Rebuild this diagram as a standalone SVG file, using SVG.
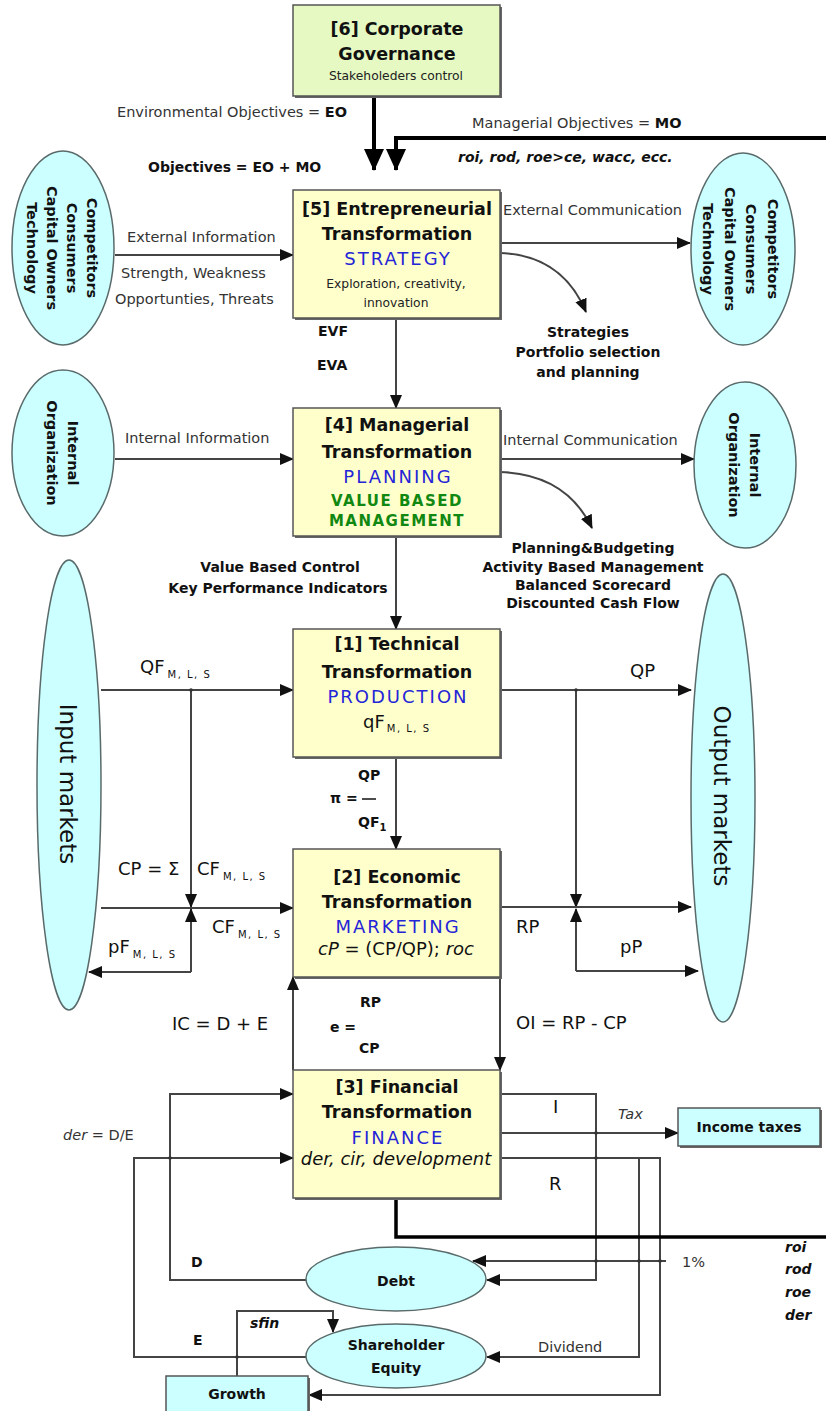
<svg xmlns="http://www.w3.org/2000/svg" width="826" height="1411" viewBox="0 0 826 1411">
<defs>
<marker id="ah" markerUnits="userSpaceOnUse" markerWidth="14" markerHeight="14" viewBox="0 0 14 14" refX="13" refY="7" orient="auto"><path d="M0,1 L14,7 L0,13 z" fill="#111"/></marker>
<marker id="ahb" markerUnits="userSpaceOnUse" markerWidth="22" markerHeight="20" viewBox="0 0 22 20" refX="21" refY="10" orient="auto"><path d="M0,0 L22,10 L0,20 z" fill="#000"/></marker>
</defs>
<style>
.box{fill:#FFFFCC;stroke:#555;stroke-width:1.5}
.gbox{fill:#E6F9C2;stroke:#555;stroke-width:1.5}
.sh{fill:#666}
.ell{fill:#CCFFFF;stroke:#5a6a6a;stroke-width:1.5}
.cbox{fill:#CCFFFF;stroke:#555;stroke-width:1.5}
.h{font-family:"DejaVu Sans",sans-serif;font-weight:bold;font-size:17.5px;fill:#111;text-anchor:middle}
.blue{font-family:"DejaVu Sans",sans-serif;font-size:18px;fill:#2525D8;text-anchor:middle;letter-spacing:2px}
.grn{font-family:"DejaVu Sans",sans-serif;font-weight:bold;font-size:15px;fill:#118811;text-anchor:middle;letter-spacing:1.5px}
.sm{font-family:"DejaVu Sans",sans-serif;font-size:12.3px;fill:#222;text-anchor:middle}
.lbl{font-family:"DejaVu Sans",sans-serif;font-size:14.5px;fill:#333}
.bl{font-family:"DejaVu Sans",sans-serif;font-weight:bold;font-size:14px;fill:#111}
.blc{font-family:"DejaVu Sans",sans-serif;font-weight:bold;font-size:14px;fill:#111;text-anchor:middle}
.ebl{font-family:"DejaVu Sans",sans-serif;font-weight:bold;font-size:14.5px;fill:#111;text-anchor:middle}
.big{font-family:"DejaVu Sans",sans-serif;font-size:23px;fill:#111;text-anchor:middle}
.sym{font-family:"DejaVu Sans",sans-serif;font-size:18px;fill:#111}
.sub{font-family:"DejaVu Sans",sans-serif;font-size:10px;fill:#111;letter-spacing:1.5px}
.it{font-style:italic}
.ln{fill:none;stroke:#444;stroke-width:2}
.thk{fill:none;stroke:#000;stroke-width:4}
.dot{fill:#333}
</style>

<g id="connectors">
<path class="thk" d="M374,96 V170" marker-end="url(#ahb)"/>
<path class="thk" d="M826,138 H396 V170" marker-end="url(#ahb)"/>
<path class="ln" d="M115,255 H293" marker-end="url(#ah)"/>
<path class="ln" d="M500,243 H690" marker-end="url(#ah)"/>
<path class="ln" d="M500,253 Q562,255 586,312" marker-end="url(#ah)"/>
<path class="ln" d="M396,318 V408" marker-end="url(#ah)"/>
<path class="ln" d="M115,459 H293" marker-end="url(#ah)"/>
<path class="ln" d="M500,459 H694" marker-end="url(#ah)"/>
<path class="ln" d="M500,472 Q566,474 592,528" marker-end="url(#ah)"/>
<path class="ln" d="M396,536 V629" marker-end="url(#ah)"/>
<path class="ln" d="M101,690 H293" marker-end="url(#ah)"/>
<path class="ln" d="M500,690 H691" marker-end="url(#ah)"/>
<path class="ln" d="M396,757 V849" marker-end="url(#ah)"/>
<path class="ln" d="M191,690 V907" marker-end="url(#ah)"/>
<path class="ln" d="M101,908 H293" marker-end="url(#ah)"/>
<path class="ln" d="M191,972 V909" marker-end="url(#ah)"/>
<path class="ln" d="M191,972 H89" marker-end="url(#ah)"/>
<path class="ln" d="M576,690 V907" marker-end="url(#ah)"/>
<path class="ln" d="M500,907 H691" marker-end="url(#ah)"/>
<path class="ln" d="M576,971 V909" marker-end="url(#ah)"/>
<path class="ln" d="M576,971 H698" marker-end="url(#ah)"/>
<path class="ln" d="M293,1070 V977" marker-end="url(#ah)"/>
<path class="ln" d="M500,977 V1070" marker-end="url(#ah)"/>
<path class="ln" d="M306,1280 H170 V1094 H293" marker-end="url(#ah)"/>
<path class="ln" d="M306,1357 H134 V1158 H293" marker-end="url(#ah)"/>
<path class="ln" d="M237,1376 V1311 H333 V1332" marker-end="url(#ah)"/>
<path class="ln" d="M500,1094 H596 V1280 H487" marker-end="url(#ah)"/>
<path class="ln" d="M500,1133 H678" marker-end="url(#ah)"/>
<path class="ln" d="M500,1158 H660 V1395 H309" marker-end="url(#ah)"/>
<path class="ln" d="M639,1158 V1357 H487" marker-end="url(#ah)"/>
<path class="ln" d="M666,1261 H473" marker-end="url(#ah)"/>
<path fill="none" stroke="#000" stroke-width="3.5" d="M396,1198 V1237 H826"/>
<circle class="dot" cx="191" cy="690" r="1.8"/>
<circle class="dot" cx="576" cy="690" r="1.8"/>
<circle class="dot" cx="170" cy="1158" r="1.8"/>
<circle class="dot" cx="237" cy="1357" r="1.8"/>
<circle class="dot" cx="596" cy="1133" r="1.8"/>
<circle class="dot" cx="596" cy="1158" r="1.8"/>
<circle class="dot" cx="596" cy="1261" r="1.8"/>
<circle class="dot" cx="639" cy="1261" r="1.8"/>
<circle class="dot" cx="660" cy="1261" r="1.8"/>
</g>

<g id="labels">
<text class="lbl" x="117" y="117">Environmental Objectives = <tspan font-weight="bold" fill="#111">EO</tspan></text>
<text class="bl" x="148" y="172">Objectives = EO + MO</text>
<text class="lbl" x="472" y="128">Managerial Objectives = <tspan font-weight="bold" fill="#111">MO</tspan></text>
<text class="bl it" x="458" y="162" font-size="15">roi, rod, roe&gt;ce, wacc, ecc.</text>
<text class="lbl" x="127" y="242">External Information</text>
<text class="lbl" x="121" y="278">Strength, Weakness</text>
<text class="lbl" x="115" y="304">Opportunties, Threats</text>
<text class="lbl" x="503" y="215">External Communication</text>
<text class="blc" x="588" y="337">Strategies</text>
<text class="blc" x="588" y="357">Portfolio selection</text>
<text class="blc" x="588" y="377">and planning</text>
<text class="bl" x="318" y="336">EVF</text>
<text class="bl" x="317" y="370">EVA</text>
<text class="lbl" x="125" y="443">Internal Information</text>
<text class="lbl" x="503" y="445">Internal Communication</text>
<text class="blc" x="593" y="553">Planning&amp;Budgeting</text>
<text class="blc" x="593" y="572">Activity Based Management</text>
<text class="blc" x="593" y="590">Balanced Scorecard</text>
<text class="blc" x="593" y="608">Discounted Cash Flow</text>
<text class="blc" x="280" y="572">Value Based Control</text>
<text class="blc" x="278" y="593">Key Performance Indicators</text>
<text class="sym" x="140" y="673" font-size="17">QF<tspan class="sub" dx="3" dy="5">M, L, S</tspan></text>
<text class="sym" x="630" y="677" font-size="17">QP</text>
<text class="bl" x="358" y="780">QP</text>
<text class="bl" x="330" y="803">π =</text>
<path d="M362,799 H376" stroke="#111" stroke-width="1.5"/>
<text class="bl" x="358" y="827">QF<tspan font-size="10" dy="4">1</tspan></text>
<text class="sym" x="118" y="875">CP = Σ</text>
<text class="sym" x="197" y="875">CF<tspan class="sub" dx="3" dy="5">M, L, S</tspan></text>
<text class="sym" x="212" y="933">CF<tspan class="sub" dx="3" dy="5">M, L, S</tspan></text>
<text class="sym" x="108" y="953">pF<tspan class="sub" dx="3" dy="5">M, L, S</tspan></text>
<text class="sym" x="516" y="933" font-size="17">RP</text>
<text class="sym" x="620" y="953" font-size="17">pP</text>
<text class="sym" x="172" y="1030" font-size="17">IC = D + E</text>
<text class="bl" x="360" y="1007">RP</text>
<text class="bl" x="330" y="1032">e =</text>
<text class="bl" x="359" y="1053">CP</text>
<text class="sym" x="516" y="1029" font-size="17">OI = RP - CP</text>
<text class="lbl" x="63" y="1140" fill="#111"><tspan font-style="italic">der</tspan> = D/E</text>
<text class="sym" x="553" y="1113" font-size="17">I</text>
<text class="lbl it" x="618" y="1119" fill="#555">Tax</text>
<text class="sym" x="549" y="1190" font-size="17">R</text>
<text class="bl" x="191" y="1267">D</text>
<text class="bl" x="193" y="1345">E</text>
<text class="bl it" x="250" y="1328">sfin</text>
<text class="lbl" x="538" y="1352">Dividend</text>
<text class="lbl" x="682" y="1267">1%</text>
<text class="bl it" x="785" y="1252">roi</text>
<text class="bl it" x="785" y="1274">rod</text>
<text class="bl it" x="785" y="1297">roe</text>
<text class="bl it" x="785" y="1320">der</text>
</g>

<g id="node-governance">
<rect class="sh" x="295" y="7" width="207" height="91"/>
<rect class="gbox" x="293" y="5" width="207" height="91"/>
<text class="h" x="397" y="35">[6] Corporate</text>
<text class="h" x="397" y="60">Governance</text>
<text class="sm" x="396" y="80">Stakeholeders control</text>
</g>

<g id="node-strategy">
<rect class="sh" x="295" y="192" width="207" height="128"/>
<rect class="box" x="293" y="190" width="207" height="128"/>
<text class="h" x="397" y="215">[5] Entrepreneurial</text>
<text class="h" x="397" y="240">Transformation</text>
<text class="blue" x="398" y="265">STRATEGY</text>
<text class="sm" x="396" y="288">Exploration, creativity,</text>
<text class="sm" x="396" y="307">innovation</text>
</g>

<g id="node-planning">
<rect class="sh" x="295" y="410" width="207" height="128"/>
<rect class="box" x="293" y="408" width="207" height="128"/>
<text class="h" x="397" y="431">[4] Managerial</text>
<text class="h" x="397" y="458">Transformation</text>
<text class="blue" x="398" y="483">PLANNING</text>
<text class="grn" x="397" y="506">VALUE BASED</text>
<text class="grn" x="397" y="526">MANAGEMENT</text>
</g>

<g id="node-production">
<rect class="sh" x="295" y="631" width="207" height="128"/>
<rect class="box" x="293" y="629" width="207" height="128"/>
<text class="h" x="397" y="650">[1] Technical</text>
<text class="h" x="397" y="678">Transformation</text>
<text class="blue" x="398" y="703">PRODUCTION</text>
<text class="sym" x="363" y="728" font-size="15">qF<tspan class="sub" dx="2" dy="4">M, L, S</tspan></text>
</g>

<g id="node-marketing">
<rect class="sh" x="295" y="851" width="207" height="128"/>
<rect class="box" x="293" y="849" width="207" height="128"/>
<text class="h" x="397" y="883">[2] Economic</text>
<text class="h" x="397" y="908">Transformation</text>
<text class="blue" x="398" y="933">MARKETING</text>
<text class="sym" x="396" y="955" font-size="14" text-anchor="middle" fill="#333"><tspan font-style="italic">cP</tspan> = (CP/QP); <tspan font-style="italic">roc</tspan></text>
</g>

<g id="node-finance">
<rect class="sh" x="295" y="1072" width="207" height="128"/>
<rect class="box" x="293" y="1070" width="207" height="128"/>
<text class="h" x="397" y="1093">[3] Financial</text>
<text class="h" x="397" y="1118">Transformation</text>
<text class="blue" x="398" y="1144">FINANCE</text>
<text class="sym it" x="396" y="1165" font-size="16" text-anchor="middle" fill="#333">der, cir, development</text>
</g>

<g id="node-ext-left">
<ellipse class="ell" cx="63" cy="248" rx="51" ry="97"/>
<g transform="translate(63,248) rotate(90)">
<text class="ebl" x="0" y="-24">Competitors</text>
<text class="ebl" x="0" y="-4">Consumers</text>
<text class="ebl" x="0" y="16">Capital Owners</text>
<text class="ebl" x="0" y="36">Technology</text>
</g>
</g>

<g id="node-ext-right">
<ellipse class="ell" cx="743" cy="249" rx="52" ry="96"/>
<g transform="translate(741,249) rotate(90)">
<text class="ebl" x="0" y="-27">Competitors</text>
<text class="ebl" x="0" y="-5">Consumers</text>
<text class="ebl" x="0" y="16">Capital Owners</text>
<text class="ebl" x="0" y="38">Technology</text>
</g>
</g>

<g id="node-int-left">
<ellipse class="ell" cx="63" cy="453" rx="51" ry="83"/>
<g transform="translate(63,453) rotate(90)">
<text class="ebl" x="0" y="-5">Internal</text>
<text class="ebl" x="0" y="16">Organization</text>
</g>
</g>

<g id="node-int-right">
<ellipse class="ell" cx="745" cy="465" rx="51" ry="83"/>
<g transform="translate(745,465) rotate(90)">
<text class="ebl" x="0" y="-5">Internal</text>
<text class="ebl" x="0" y="16">Organization</text>
</g>
</g>

<g id="node-input">
<ellipse class="ell" cx="69" cy="785" rx="32" ry="225"/>
<text class="big" transform="translate(69,784) rotate(90)" x="0" y="9">Input markets</text>
</g>

<g id="node-output">
<ellipse class="ell" cx="723" cy="798" rx="32" ry="224"/>
<text class="big" transform="translate(723,796) rotate(90)" x="0" y="9">Output markets</text>
</g>

<g id="node-taxes">
<rect class="sh" x="680" y="1110" width="142" height="38"/>
<rect class="cbox" x="678" y="1108" width="142" height="38"/>
<text class="blc" x="749" y="1132">Income taxes</text>
</g>

<g id="node-debt">
<ellipse class="ell" cx="396" cy="1279" rx="90" ry="32"/>
<text class="blc" x="396" y="1286" font-size="16">Debt</text>
</g>

<g id="node-equity">
<ellipse class="ell" cx="396" cy="1356" rx="90" ry="32"/>
<text class="blc" x="396" y="1350" font-size="16.5">Shareholder</text>
<text class="blc" x="396" y="1373" font-size="16.5">Equity</text>
</g>

<g id="node-growth">
<rect class="sh" x="168" y="1378" width="142" height="40"/>
<rect class="cbox" x="166" y="1376" width="142" height="40"/>
<text class="blc" x="237" y="1399" font-size="13">Growth</text>
</g>
</svg>
